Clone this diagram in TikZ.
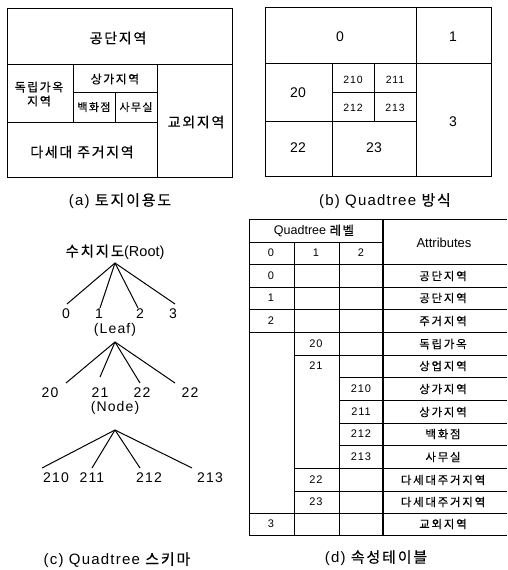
\documentclass[tikz,border=0pt]{standalone}
\usepackage{fontspec}
\setmainfont{Liberation Sans}
\newfontfamily\kr[LetterSpace=12,FakeBold=0.4]{Noto Sans CJK KR}
\newfontfamily\krw[LetterSpace=15,FakeBold=0.3]{Noto Sans CJK KR}
\newfontfamily\lsw[LetterSpace=8]{Liberation Sans}
\begin{document}
\begin{tikzpicture}[x=1pt,y=-1pt,line width=1pt,
  every node/.style={inner sep=0pt,anchor=center},
  lbl/.style={font=\fontsize{14}{16}\selectfont\kr},
  sml/.style={font=\fontsize{12}{14}\selectfont\kr},
  ssml/.style={font=\fontsize{11}{13}\selectfont\kr},
  num/.style={font=\fontsize{14}{16}\selectfont},
  snum/.style={font=\fontsize{10.5}{12}\selectfont\lsw},
  capt/.style={font=\fontsize{15}{17}\selectfont\lsw},
  tnum/.style={font=\fontsize{14}{16}\selectfont\lsw},
  tab/.style={font=\fontsize{11}{13}\selectfont\lsw},
  tabk/.style={font=\fontsize{11.5}{13}\selectfont\krw},
  thickline/.style={line width=1.6pt}]
\useasboundingbox (0,0) rectangle (507,570);

% ---------- (a) land use ----------
\draw (7,8) rectangle (232,177);
\draw (7,64) -- (232,64);
\draw (73,64) -- (73,122);
\draw (7,122) -- (157,122);
\draw (157,64) -- (157,177);
\draw (73,92) -- (157,92);
\draw (115,92) -- (115,122);
\node[lbl] (a1) at (118,38) {공단지역};
\node[sml,align=center] (a2) at (39,94) {독립가옥\\지역};
\node[sml] (a3) at (115,79) {상가지역};
\node[ssml] (a4) at (94,107) {백화점};
\node[ssml] (a5) at (136,107) {사무실};
\node[lbl] (a6) at (196,122) {교외지역};
\node[lbl] (a7) at (82,152) {다세대 주거지역};
\node[capt] (ca) at (120,201) {(a) {\kr 토지이용도}};

% ---------- (b) quadtree ----------
\draw (265,7) rectangle (491,176);
\draw (265,63) -- (491,63);
\draw (416,7) -- (416,176);
\draw (332,63) -- (332,176);
\draw (265,121) -- (416,121);
\draw (374,63) -- (374,121);
\draw (332,92) -- (416,92);
\node[num] (b0) at (340,37) {0};
\node[num] (b1) at (453,37) {1};
\node[num] (b20) at (298,93) {20};
\node[snum] (b210) at (353,80) {210};
\node[snum] (b211) at (395,80) {211};
\node[snum] (b212) at (353,108) {212};
\node[snum] (b213) at (395,108) {213};
\node[num] (b3) at (453,122) {3};
\node[num] (b22) at (298,148) {22};
\node[num] (b23) at (374,148) {23};
\node[capt] (cb) at (385,201) {(b) Quadtree {\kr 방식}};

% ---------- (c) schema tree ----------
\node[font=\fontsize{14.5}{16}\selectfont] (root) at (115,252) {{\kr 수치지도}(Root)};
\coordinate (r0) at (115,263);
\coordinate (e1) at (67,304);
\coordinate (e2) at (100,308);
\coordinate (e3) at (138,308);
\coordinate (e4) at (175,304);
\foreach \e in {e1,e2,e3,e4} \draw (r0) -- (\e);
\node[tnum] (t0) at (66,314) {0};
\node[tnum] (t1) at (99,314) {1};
\node[tnum] (t2) at (140,314) {2};
\node[tnum] (t3) at (173,314) {3};
\node[tnum] (leaf) at (115,330) {(Leaf)};
\coordinate (r1) at (115,342);
\coordinate (f1) at (66,383);
\coordinate (f2) at (100,377);
\coordinate (f3) at (140,383);
\coordinate (f4) at (175,383);
\foreach \e in {f1,f2,f3,f4} \draw (r1) -- (\e);
\node[tnum] (t20) at (50,393) {20};
\node[tnum] (t21) at (100,393) {21};
\node[tnum] (t22) at (142,393) {22};
\node[tnum] (t22b) at (190,393) {22};
\node[tnum] (node) at (115,408) {(Node)};
\coordinate (r2) at (115,430);
\coordinate (g1) at (42,468);
\coordinate (g2) at (92,468);
\coordinate (g3) at (140,468);
\coordinate (g4) at (192,468);
\foreach \e in {g1,g2,g3,g4} \draw (r2) -- (\e);
\node[tnum] (t210) at (56,478) {210};
\node[tnum] (t211) at (92,478) {211};
\node[tnum] (t212) at (149,478) {212};
\node[tnum] (t213) at (210,478) {213};
\node[capt] (cc) at (117,560) {(c) Quadtree {\kr 스키마}};

% ---------- (d) attribute table ----------
\draw (507,219) -- (249,219) -- (249,535) -- (507,535);
\draw (249,242) -- (383,242);
\draw (249,264) -- (507,264);
\draw (249,287) -- (507,287);
\draw (249,309) -- (507,309);
\draw (249,332) -- (507,332);
\draw (294,355) -- (507,355);
\draw (339,377) -- (507,377);
\draw (339,400) -- (507,400);
\draw (339,423) -- (507,423);
\draw (339,445) -- (507,445);
\draw (294,468) -- (507,468);
\draw (294,491) -- (507,491);
\draw (249,513) -- (507,513);
\draw (294,242) -- (294,535);
\draw (339,242) -- (339,535);
\draw[thickline] (383,219) -- (383,535);
\node[font=\fontsize{12.5}{14}\selectfont] (hq) at (314,231) {Quadtree {\kr 레벨}};
\node[font=\fontsize{13}{15}\selectfont] (hat) at (444,243) {Attributes};
\node[tab] (h0) at (271,253) {0};
\node[tab] (h1) at (316,253) {1};
\node[tab] (h2) at (361,253) {2};
\node[tab] (c0) at (271,276) {0};
\node[tab] (c1) at (271,298) {1};
\node[tab] (c2) at (271,321) {2};
\node[tab] (c20) at (316,344) {20};
\node[tab] (c21) at (316,366) {21};
\node[tab] (c210) at (361,389) {210};
\node[tab] (c211) at (361,412) {211};
\node[tab] (c212) at (361,434) {212};
\node[tab] (c213) at (361,457) {213};
\node[tab] (c22) at (316,480) {22};
\node[tab] (c23) at (316,502) {23};
\node[tab] (c3) at (271,524) {3};
\node[tabk] (d0) at (443,276) {공단지역};
\node[tabk] (d1) at (443,298) {공단지역};
\node[tabk] (d2) at (443,321) {주거지역};
\node[tabk] (d20) at (443,344) {독립가옥};
\node[tabk] (d21) at (443,366) {상업지역};
\node[tabk] (d210) at (443,389) {상가지역};
\node[tabk] (d211) at (443,412) {상가지역};
\node[tabk] (d212) at (443,434) {백화점};
\node[tabk] (d213) at (443,457) {사무실};
\node[tabk] (d22) at (443,480) {다세대주거지역};
\node[tabk] (d23) at (443,502) {다세대주거지역};
\node[tabk] (d3) at (443,524) {교외지역};
\node[capt] (cd) at (376,558) {(d) {\kr 속성테이블}};
\end{tikzpicture}
\end{document}
